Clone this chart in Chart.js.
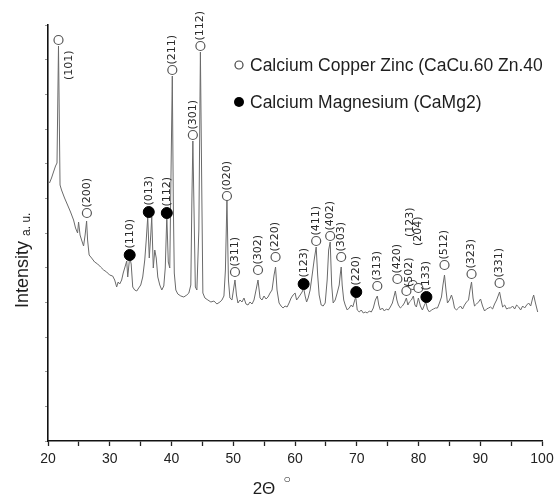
<!DOCTYPE html>
<html>
<head>
<meta charset="utf-8">
<script src="https://cdn.jsdelivr.net/npm/chart.js@4.4.1/dist/chart.umd.min.js"></script>
<style>
  html, body { margin: 0; padding: 0; background: #fff; }
</style>
</head>
<body>
<canvas id="xrd" width="559" height="500"></canvas>
<script>
// measured pattern (2-theta in degrees, intensity in arbitrary units)
const twoTheta = [
  20.24,20.57,20.89,21.22,21.46,21.70,21.95,22.19,22.68,23.17,
  23.65,24.14,24.46,24.79,24.95,25.19,25.44,25.76,26.01,26.25,
  26.41,26.66,27.06,27.55,28.04,28.52,29.01,29.50,29.98,30.47,
  30.80,31.12,31.36,31.61,31.93,32.18,32.42,32.75,32.91,33.23,
  33.47,33.72,34.04,34.37,34.69,35.02,35.34,35.67,35.91,36.15,
  36.40,36.64,36.80,37.05,37.29,37.53,37.78,38.10,38.43,38.75,
  38.99,39.24,39.48,39.72,39.97,40.13,40.29,40.45,40.70,41.02,
  41.51,41.99,42.48,42.81,43.13,43.30,43.46,43.62,43.86,44.11,
  44.43,44.68,44.92,45.08,45.41,45.89,46.38,46.87,47.35,47.84,
  48.17,48.49,48.73,48.98,49.22,49.46,49.79,50.03,50.28,50.52,
  50.76,51.09,51.41,51.74,52.06,52.39,52.71,53.04,53.36,53.69,
  54.01,54.34,54.66,54.98,55.31,55.63,55.96,56.28,56.61,56.85,
  57.09,57.42,57.74,58.07,58.39,58.72,59.04,59.37,59.69,60.02,
  60.26,60.50,60.83,61.15,61.40,61.64,61.88,62.13,62.45,62.78,
  63.10,63.43,63.67,63.91,64.24,64.56,64.89,65.21,65.45,65.70,
  65.94,66.18,66.51,66.83,67.16,67.32,67.48,67.64,67.89,68.13,
  68.46,68.78,69.11,69.35,69.59,69.84,70.08,70.41,70.73,71.06,
  71.38,71.71,72.03,72.36,72.68,73.01,73.33,73.57,73.82,74.14,
  74.47,74.79,75.12,75.44,75.77,76.01,76.25,76.50,76.74,77.06,
  77.39,77.71,78.04,78.28,78.52,78.85,79.17,79.42,79.66,79.98,
  80.31,80.63,80.96,81.20,81.44,81.77,82.09,82.42,82.74,83.07,
  83.39,83.72,83.96,84.21,84.45,84.69,85.02,85.34,85.58,85.83,
  86.15,86.48,86.80,87.13,87.45,87.78,88.10,88.34,88.59,88.83,
  89.07,89.40,89.72,90.05,90.37,90.70,91.02,91.35,91.67,92.00,
  92.32,92.65,92.89,93.13,93.38,93.62,93.95,94.27,94.59,94.92,
  95.24,95.57,95.89,96.22,96.54,96.87,97.19,97.52,97.84,98.17,
  98.49,98.65,98.90,99.14,99.30
];
const intensity = [
  258,263,269,275,278,395,256,251,243,236,
  229,221,213,208,219,206,201,195,206,220,
  201,186,183,179,177,174,171,169,166,165,
  161,154,159,157,161,168,173,180,164,184,
  177,154,151,150,153,156,164,181,201,224,
  183,206,224,173,191,183,164,156,151,155,
  173,225,179,173,291,365,241,168,151,147,
  145,144,146,148,156,241,300,241,154,151,
  211,389,241,148,143,141,139,140,137,139,
  141,145,171,242,161,143,141,151,161,146,
  138,141,139,143,137,136,139,137,141,151,
  161,143,141,145,142,144,148,151,166,174,
  151,138,135,133,135,134,138,143,146,148,
  141,143,146,149,153,145,139,143,151,166,
  181,194,166,146,136,135,138,161,191,199,
  156,138,141,148,156,166,174,156,141,136,
  131,133,136,134,139,144,131,129,131,128,
  129,128,130,129,133,141,145,136,131,133,
  130,132,131,134,138,144,150,141,136,133,
  135,138,143,136,139,141,145,136,134,143,
  135,131,136,139,132,129,131,132,133,133,
  138,144,156,166,151,138,141,146,141,133,
  131,133,135,132,136,139,141,151,159,143,
  135,137,139,142,135,130,132,133,134,132,
  137,141,145,149,141,134,136,132,133,133,
  135,132,136,134,131,135,133,136,138,135,
  143,146,139,133,129
];

// CaCu.60 Zn.40 reflections
const cuZnAngles  = [21.70, 26.30, 40.13, 43.46, 44.68, 48.98, 50.28, 54.01, 56.85, 63.43,
                     65.70, 67.48, 73.33, 76.58, 78.04, 79.08, 79.98, 84.21, 88.59, 93.13];
const cuZnHeights = [401, 228, 371, 306, 395, 245, 169, 171, 184, 200,
                     205, 184, 155, 162, 150, 156, 153, 176, 167, 158];
const cuZnLabels  = ['(101)','(200)','(211)','(301)','(112)','(020)','(311)','(302)','(220)','(411)',
                     '(402)','(303)','(313)','(420)','(502)','(123)','(204)','(512)','(323)','(331)'];

// CaMg2 reflections
const caMgAngles  = [33.23, 36.32, 39.24, 61.40, 69.92, 81.28];
const caMgHeights = [186, 229, 228, 157, 149, 144];
const caMgLabels  = ['(110)','(013)','(112)','(123)','(220)','(133)'];

const xTickValues = [20, 30, 40, 50, 60, 70, 80, 90, 100];

const seriesNames = ['Calcium Copper Zinc (CaCu.60 Zn.40', 'Calcium Magnesium (CaMg2)'];

const OPEN_R = 4.5, FILLED_R = 5.5;

// labels that sit off their default spot above the marker: [dx, start offset from marker centre]
const labelNudge = {
  'cu(101)': [11, 40],
  'cu(502)': [3, -4],
  'cu(123)': [-3, -48],
  'cu(204)': [0, -42]
};

const annotate = {
  id: 'annotate',
  afterDatasetsDraw(chart) {
    const { ctx, scales: { x, y } } = chart;
    ctx.save();
    ctx.font = '11px "DejaVu Sans"';
    ctx.fillStyle = '#2a2a2a';
    ctx.textAlign = 'left';
    ctx.textBaseline = 'middle';
    const put = (angles, heights, labels, r, tag) => {
      angles.forEach((a, i) => {
        const px = x.getPixelForValue(a);
        const py = y.getPixelForValue(heights[i]);
        const n = labelNudge[tag + labels[i]] || [0, -(r + 1)];
        ctx.save();
        ctx.translate(px + n[0], py + n[1]);
        ctx.rotate(-Math.PI / 2);
        ctx.fillText(labels[i], 0, 0);
        ctx.restore();
      });
    };
    put(cuZnAngles, cuZnHeights, cuZnLabels, OPEN_R, 'cu');
    put(caMgAngles, caMgHeights, caMgLabels, FILLED_R, 'mg');

    // legend inside the plot
    ctx.font = '17.5px "Liberation Sans", Arial, sans-serif';
    ctx.fillStyle = '#1e1e1e';
    ctx.beginPath();
    ctx.arc(239, 65, 4, 0, Math.PI * 2);
    ctx.fillStyle = '#fff';
    ctx.fill();
    ctx.strokeStyle = '#444';
    ctx.lineWidth = 1.2;
    ctx.stroke();
    ctx.beginPath();
    ctx.arc(239, 102, 5, 0, Math.PI * 2);
    ctx.fillStyle = '#000';
    ctx.fill();
    ctx.fillStyle = '#1e1e1e';
    ctx.fillText(seriesNames[0], 250, 66);
    ctx.fillText(seriesNames[1], 250, 103);

    // axis titles
    ctx.save();
    ctx.translate(28, 308);
    ctx.rotate(-Math.PI / 2);
    ctx.textBaseline = 'alphabetic';
    ctx.font = '18px "Liberation Sans", Arial, sans-serif';
    ctx.fillText('Intensity', 0, 0);
    const w = ctx.measureText('Intensity ').width;
    ctx.font = '12px "Liberation Sans", Arial, sans-serif';
    ctx.fillText('a. u.', w, 2);
    ctx.restore();

    ctx.textBaseline = 'alphabetic';
    ctx.textAlign = 'center';
    ctx.font = '17px "Liberation Sans", Arial, sans-serif';
    ctx.fillText('2Θ', 264, 494);
    ctx.font = '12px "Liberation Sans", Arial, sans-serif';
    ctx.fillText('○', 287, 483);
    ctx.restore();
  }
};

new Chart(document.getElementById('xrd').getContext('2d'), {
  type: 'scatter',
  data: {
    datasets: [
      {
        label: seriesNames[0],
        data: cuZnAngles.map((a, i) => ({ x: a, y: cuZnHeights[i] })),
        pointStyle: 'circle',
        pointRadius: OPEN_R,
        backgroundColor: '#fff',
        borderColor: '#555',
        borderWidth: 1.2,
        order: 0
      },
      {
        label: seriesNames[1],
        data: caMgAngles.map((a, i) => ({ x: a, y: caMgHeights[i] })),
        pointStyle: 'circle',
        pointRadius: FILLED_R,
        backgroundColor: '#000',
        borderColor: '#000',
        borderWidth: 1,
        order: 0
      },
      {
        label: 'pattern',
        data: twoTheta.map((t, i) => ({ x: t, y: intensity[i] })),
        showLine: true,
        pointRadius: 0,
        borderColor: '#6a6a6a',
        borderWidth: 1,
        tension: 0,
        order: 1
      }
    ]
  },
  options: {
    responsive: false,
    animation: false,
    devicePixelRatio: 1,
    layout: { padding: { top: 25, right: 17, left: 0, bottom: 0 } },
    plugins: {
      legend: { display: false },
      tooltip: { enabled: false }
    },
    scales: {
      x: {
        type: 'linear',
        min: 20,
        max: 100,
        afterBuildTicks(scale) {
          const t = [];
          for (let v = 20; v <= 100; v += 5) t.push({ value: v });
          scale.ticks = t;
        },
        afterFit(scale) { scale.height = 59; },
        ticks: {
          autoSkip: false,
          maxRotation: 0,
          padding: 5,
          color: '#222',
          font: { family: '"Liberation Sans", Arial, sans-serif', size: 14 },
          callback: v => (xTickValues.includes(v) ? String(v) : '')
        },
        grid: { drawOnChartArea: false, drawTicks: true, tickLength: 5, color: '#222', tickWidth: 1.3 },
        border: { display: true, color: '#111', width: 1.6 }
      },
      y: {
        min: 0,
        max: 416,
        afterFit(scale) { scale.width = 48; },
        ticks: { display: false, count: 13 },
        grid: { drawOnChartArea: false, drawTicks: true, tickLength: 3, color: '#999' },
        border: { display: true, color: '#111', width: 1.6 }
      }
    }
  },
  plugins: [annotate]
});
</script>
</body>
</html>
